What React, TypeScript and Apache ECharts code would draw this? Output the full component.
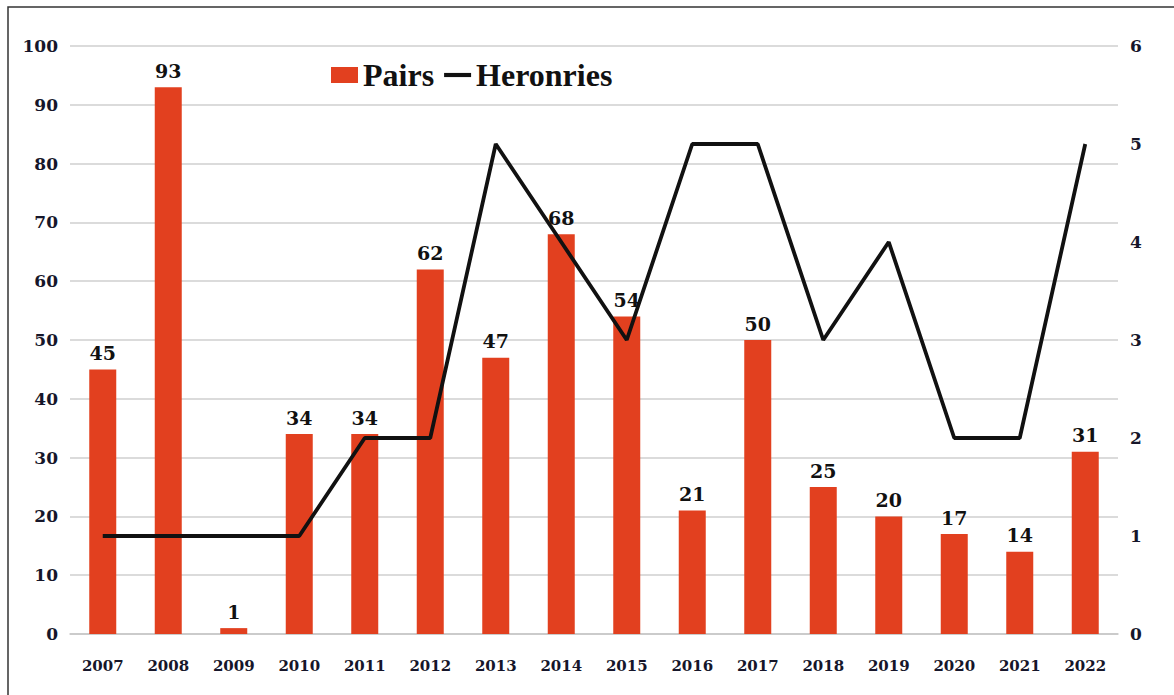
import React, { useEffect, useRef } from "react";
import * as echarts from "echarts";

const years = ["2007", "2008", "2009", "2010", "2011", "2012", "2013", "2014", "2015", "2016", "2017", "2018", "2019", "2020", "2021", "2022"];
const pairs = [45, 93, 1, 34, 34, 62, 47, 68, 54, 21, 50, 25, 20, 17, 14, 31];
const heronries = [1, 1, 1, 1, 2, 2, 5, 4, 3, 5, 5, 3, 4, 2, 2, 5];

const FONT = "'Liberation Serif', 'DejaVu Serif', serif";
const NUMFONT = "'DejaVu Serif', serif";
const RED = "#e2401f";
const TEXT = "#16162a";

export default function App() {
  const ref = useRef<HTMLDivElement>(null);
  useEffect(() => {
    document.body.style.margin = "0";
    const chart = echarts.init(ref.current!, null, { renderer: "svg" });
    chart.setOption({
      animation: false,
      backgroundColor: "#ffffff",
      graphic: [
        {
          type: "rect",
          shape: { x: 8, y: 7, width: 1200, height: 720 },
          style: { fill: "none", stroke: "#333", lineWidth: 1.5 },
          silent: true,
        },
      ],
      legend: {
        left: 326,
        top: 54,
        itemGap: 10,
        symbolKeepAspect: true,
        textStyle: { fontFamily: FONT, fontSize: 32, fontWeight: "bold", color: "#111" },
        data: [
          { name: "Pairs", icon: "rect", itemStyle: { color: RED } },
          { name: "Heronries", icon: "path://M0,0h26v4H0z", itemStyle: { color: "#111" } },
        ],
        itemWidth: 27,
        itemHeight: 16,
      },
      grid: { left: 70, right: 56, top: 46, bottom: 61 },
      xAxis: {
        type: "category",
        data: years,
        axisTick: { show: false },
        axisLine: { lineStyle: { color: "#c6c6c6", width: 1.5 } },
        axisLabel: { fontFamily: NUMFONT, fontSize: 15, fontWeight: "bold", color: TEXT, margin: 24 },
      },
      yAxis: [
        {
          type: "value",
          min: 0,
          max: 100,
          interval: 10,
          axisLabel: { fontFamily: NUMFONT, fontSize: 17, fontWeight: "bold", color: TEXT, margin: 12 },
          splitLine: { lineStyle: { color: "#cfcfcf", width: 1.5 } },
          axisLine: { show: false },
          axisTick: { show: false },
        },
        {
          type: "value",
          min: 0,
          max: 6,
          interval: 1,
          axisLabel: { fontFamily: NUMFONT, fontSize: 17, fontWeight: "bold", color: TEXT, margin: 12 },
          splitLine: { show: false },
          axisLine: { show: false },
          axisTick: { show: false },
        },
      ],
      series: [
        {
          name: "Pairs",
          type: "bar",
          data: pairs,
          barWidth: 27,
          itemStyle: { color: RED },
          label: {
            show: true,
            position: "top",
            distance: 7,
            fontFamily: NUMFONT,
            fontSize: 19,
            fontWeight: "bold",
            color: "#111",
          },
        },
        {
          name: "Heronries",
          type: "line",
          yAxisIndex: 1,
          data: heronries,
          symbol: "none",
          lineStyle: { color: "#111", width: 3.8 },
          itemStyle: { color: "#111" },
          z: 3,
        },
      ],
    });
    return () => chart.dispose();
  }, []);
  return <div ref={ref} style={{ width: 1174, height: 695 }} />;
}
